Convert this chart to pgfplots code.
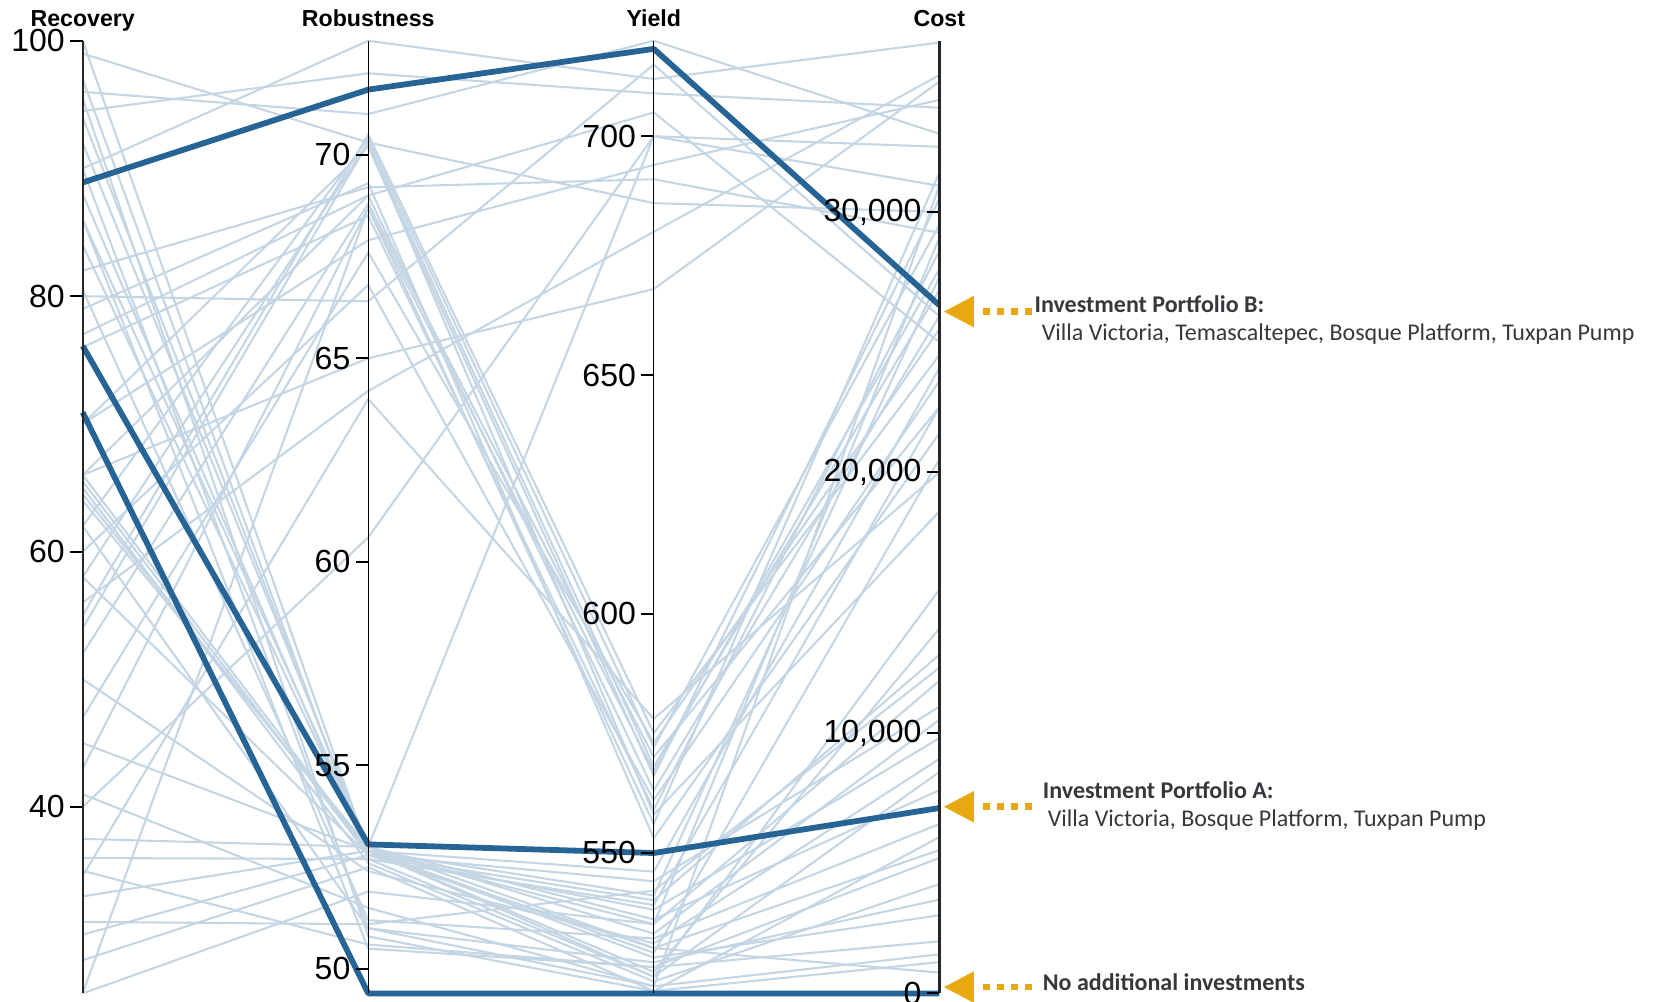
\documentclass[border=0pt]{standalone}
\usepackage{pgfplots}
\pgfplotsset{compat=1.18}
\usepackage{fontspec}
\setmainfont{Liberation Sans}
\newfontfamily\calfont{Carlito}
\definecolor{bgline}{RGB}{196,213,228}
\definecolor{hiline}{RGB}{38,100,150}
\definecolor{arrowor}{RGB}{232,168,20}
\definecolor{anntext}{RGB}{55,55,60}
% axis ranges
\def\recmin{25.4}\def\recmax{100}
\def\robmin{49.4}\def\robmax{72.8}
\def\yldmin{520.5}\def\yldmax{720}
\def\costmin{0}\def\costmax{36570}
\newcommand{\pline}[5][bgl]{%
  \addplot[#1] table[row sep=\\, x=x, y expr={\thisrow{x}<0.5 ? (\thisrow{v}-\recmin)/(\recmax-\recmin) : (\thisrow{x}<1.5 ? (\thisrow{v}-\robmin)/(\robmax-\robmin) : (\thisrow{x}<2.5 ? (\thisrow{v}-\yldmin)/(\yldmax-\yldmin) : (\thisrow{v}-\costmin)/(\costmax-\costmin)))}]
  {x v\\ 0 #2\\ 1 #3\\ 2 #4\\ 3 #5\\};}
\newcommand{\annarrow}[1]{%
  \fill[arrowor] (axis cs:3.0165,#1) -- ++(10.8pt,5.7pt) -- ++(0pt,-11.4pt) -- cycle;
  \draw[arrowor, line width=2.4pt, dash pattern=on 2.4pt off 2.7pt] (axis cs:3.0165,#1) ++(14.1pt,0pt) -- ++(17.8pt,0pt);}
\pgfplotsset{
  bgl/.style={bgline, line width=0.75pt},
  hil/.style={hiline, line width=2.1pt, line join=round},
  paraxis/.style={scale only axis, width=1pt, height=345.36pt, anchor=south west,
    xmin=0, xmax=1, axis x line=none, axis y line*=left, clip=false,
    tick align=outside, major tick length=4.5pt,
    y axis line style={black, line width=0.45pt},
    ytick style={black, line width=0.7pt},
    yticklabel style={font=\fontsize{11.6}{13}\selectfont, inner sep=1.8pt},
    /pgf/number format/assume math mode=true, scaled y ticks=false},
}
\begin{document}
\begin{tikzpicture}
\path[use as bounding box] (0,0) rectangle (600pt,362.94pt);
\begin{axis}[scale only axis, width=310.55pt, height=345.36pt,
  at={(29.98pt,2.79pt)}, anchor=south west,
  xmin=0, xmax=3, ymin=0, ymax=1, hide axis, clip=false]
% low group
\pline{100}{52.9}{528}{3000}
\pline{97}{52.7}{524}{8500}
\pline{95.5}{50.8}{521}{1200}
\pline{94}{52.9}{535}{12000}
\pline{92}{53.0}{530}{5500}
\pline{90}{51.0}{522}{31000}
\pline{88}{52.8}{538}{9800}
\pline{86}{50.5}{526}{2000}
\pline{84}{52.9}{541}{27500}
\pline{80.5}{51.2}{532}{6500}
\pline{66}{52.9}{525}{14000}
\pline{65.5}{52.8}{544}{11000}
\pline{65}{52.6}{523}{4200}
\pline{64.5}{52.9}{529}{20500}
\pline{64}{53.0}{536}{7800}
\pline{62}{51.0}{527}{3600}
\pline{58}{52.8}{540}{13000}
\pline{50}{52.4}{531}{9000}
\pline{45}{52.9}{546}{24000}
\pline{41}{51.5}{522}{1500}
\pline{37.5}{53.0}{533}{10500}
\pline{36}{52.7}{539}{22500}
\pline{35}{50.6}{526}{5200}
\pline{33}{52.9}{524}{15500}
\pline{31}{51.1}{542}{12500}
\pline{30}{52.8}{530}{800}
\pline{28}{52.5}{521}{6000}
\pline{25.4}{51.9}{535}{29000}
% mid group
\pline{62}{70.4}{572}{29500}
\pline{58}{70.3}{568}{27000}
\pline{55}{70.5}{575}{24500}
\pline{70}{70.2}{566}{30500}
\pline{66}{69.0}{563}{26000}
\pline{52}{68.8}{570}{22500}
\pline{76}{68.5}{559}{28500}
\pline{47}{67.6}{573}{25500}
\pline{60}{66.8}{561}{23500}
\pline{43}{68.7}{556}{31500}
\pline{34.6}{64.0}{578}{20000}
\pline{25.4}{68.7}{567}{27800}
\pline{79}{69.3}{553}{21500}
\pline{54}{70.3}{558}{18500}
% top group
\pline{90}{72.8}{712}{36500}
\pline{96}{71.0}{720}{33000}
\pline{82}{69.2}{691}{29200}
\pline{70}{67.9}{694}{34300}
\pline{56}{64.2}{680}{35250}
\pline{40}{60.6}{700}{31000}
\pline{86}{53.0}{700}{32500}
\pline{77}{69.0}{705}{25000}
\pline{66}{65.0}{668}{35000}
\pline{99}{70.3}{686}{30000}
\pline{94.5}{72.0}{709}{34000}
\pline{80}{66.4}{715}{26000}
% highlighted portfolios
\pline[hil]{70.9}{49.4}{520.5}{0}
\pline[hil]{76.1}{53.06}{549.9}{7115}
\pline[hil]{88.9}{71.6}{718.3}{26420}
% axis titles
\node[anchor=base, font=\bfseries\fontsize{8.4}{10}\selectfont, inner sep=0pt] at (axis cs:0,1.0154) {Recovery};
\node[anchor=base, font=\bfseries\fontsize{8.4}{10}\selectfont, inner sep=0pt] at (axis cs:1,1.0154) {Robustness};
\node[anchor=base, font=\bfseries\fontsize{8.4}{10}\selectfont, inner sep=0pt] at (axis cs:2,1.0154) {Yield};
\node[anchor=base, font=\bfseries\fontsize{8.4}{10}\selectfont, inner sep=0pt] at (axis cs:3,1.0154) {Cost};
% annotations
\annarrow{0.7157}
\annarrow{0.1959}
\annarrow{0.0066}
\node[anchor=west, inner sep=0pt, text=anntext, font=\calfont\bfseries\fontsize{8.7}{10}\selectfont] at (axis cs:3.332,0.7236) {Investment Portfolio B:};
\node[anchor=west, inner sep=0pt, text=anntext, font=\calfont\fontsize{8.7}{10}\selectfont] at (axis cs:3.357,0.6926) {Villa Victoria, Temascaltepec, Bosque Platform, Tuxpan Pump};
\node[anchor=west, inner sep=0pt, text=anntext, font=\calfont\bfseries\fontsize{8.7}{10}\selectfont] at (axis cs:3.361,0.2129) {Investment Portfolio A:};
\node[anchor=west, inner sep=0pt, text=anntext, font=\calfont\fontsize{8.7}{10}\selectfont] at (axis cs:3.378,0.1819) {Villa Victoria, Bosque Platform, Tuxpan Pump};
\node[anchor=west, inner sep=0pt, text=anntext, font=\calfont\bfseries\fontsize{8.7}{10}\selectfont] at (axis cs:3.361,0.0123) {No additional investments};
\end{axis}
% parallel axes
\begin{axis}[paraxis, at={(29.98pt,2.79pt)}, ymin=\recmin, ymax=\recmax, ytick={40,60,80,100},
  y axis line style={black!85, line width=0.75pt}]
\end{axis}
\begin{axis}[paraxis, at={(133.50pt,2.79pt)}, ymin=\robmin, ymax=\robmax, ytick={50,55,60,65,70}]
\end{axis}
\begin{axis}[paraxis, at={(237.02pt,2.79pt)}, ymin=\yldmin, ymax=\yldmax, ytick={550,600,650,700}]
\end{axis}
\begin{axis}[paraxis, at={(340.53pt,2.79pt)}, ymin=\costmin, ymax=\costmax, ytick={0,10000,20000,30000},
  y axis line style={black!85, line width=0.9pt},
  /pgf/number format/.cd, 1000 sep={,}]
\end{axis}
\end{tikzpicture}
\end{document}
